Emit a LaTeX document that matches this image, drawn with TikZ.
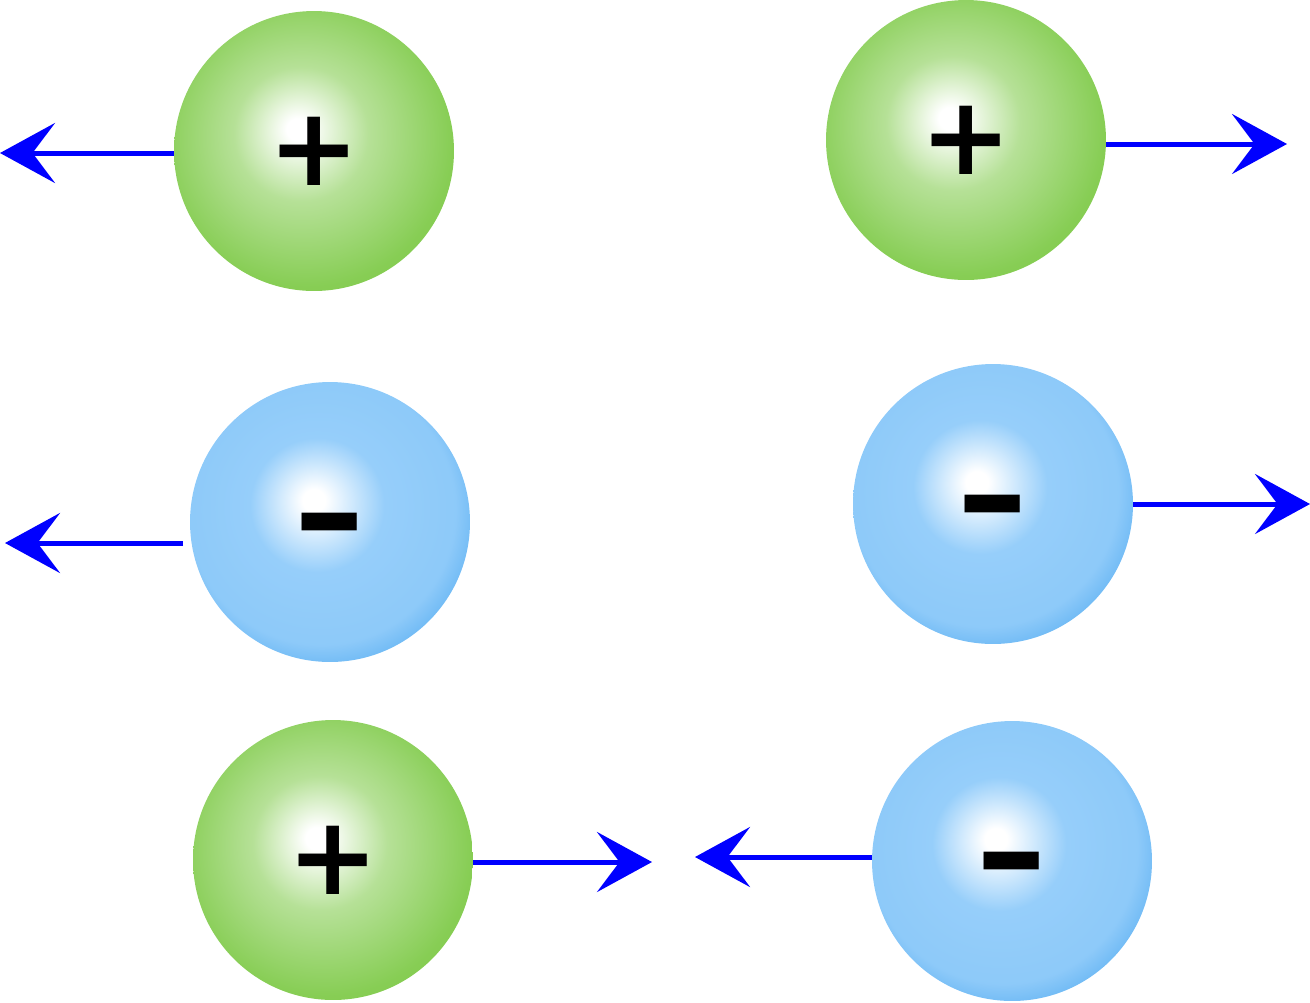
\documentclass[tikz,border=0pt]{standalone}
\usepackage{fontspec}
\usetikzlibrary{arrows.meta,positioning}
\newfontfamily\chargesans{DejaVu Sans}
\definecolor{plusgreen}{RGB}{122,200,66}
\definecolor{minusblue}{RGB}{92,176,242}
\definecolor{midblue}{RGB}{150,206,250}
\pgfdeclareradialshading{greenball}{\pgfpoint{-3bp}{4bp}}{color(0bp)=(white);color(2bp)=(white);color(12bp)=(plusgreen!55);color(26bp)=(plusgreen!90);color(36bp)=(plusgreen);color(50bp)=(plusgreen)}
\pgfdeclareradialshading{blueball}{\pgfpoint{-3bp}{4bp}}{color(0bp)=(white);color(2bp)=(white);color(12bp)=(midblue);color(24bp)=(midblue!85!minusblue);color(30bp)=(minusblue);color(50bp)=(minusblue!80!blue)}
\newcommand{\chargefont}{\chargesans\bfseries\fontsize{62}{62}\selectfont}
\newcommand{\minussign}{{\fontsize{80}{80}\selectfont\smash{\raisebox{-22pt}{–}}}}
\tikzset{
  poscharge/.style={circle,minimum size=5.6cm,inner sep=0pt,shading=greenball,font=\chargefont},
  negcharge/.style={circle,minimum size=5.6cm,inner sep=0pt,shading=blueball,font=\chargefont},
  force/.style={blue,line width=1mm,-{Stealth[length=11mm,width=12mm,inset=4.5mm]}}
}
\begin{document}
\begin{tikzpicture}[x=0.02cm,y=-0.02cm]
  \useasboundingbox (0,0) rectangle (1310,1002);
  %%charges
  \node at (314,151) [poscharge] (p1) {+};
  \node at (966,140) [poscharge] (p2) {+};
  \node at (330,522) [negcharge] (n1) {\minussign};
  \node at (993,504) [negcharge] (n2) {\minussign};
  \node at (333,860) [poscharge] (p3) {+};
  \node at (1012,861) [negcharge] (n3) {\minussign};
  %%arrow tips
  \coordinate (a1) at (0,153);
  \coordinate (a2) at (1287,144);
  \coordinate (a3) at (5,543);
  \coordinate (a4) at (1310,504);
  \coordinate (a5) at (652,862);
  \coordinate (a6) at (695,857);
  %%forces
  \draw [force] (p1.west |- a1) -- (a1);
  \draw [force] (p2.east |- a2) -- (a2);
  \draw [force] (183,543) -- (a3);
  \draw [force] (n2.east) -- (a4);
  \draw [force] (p3.east |- a5) -- (a5);
  \draw [force] (n3.west |- a6) -- (a6);
\end{tikzpicture}
\end{document}
